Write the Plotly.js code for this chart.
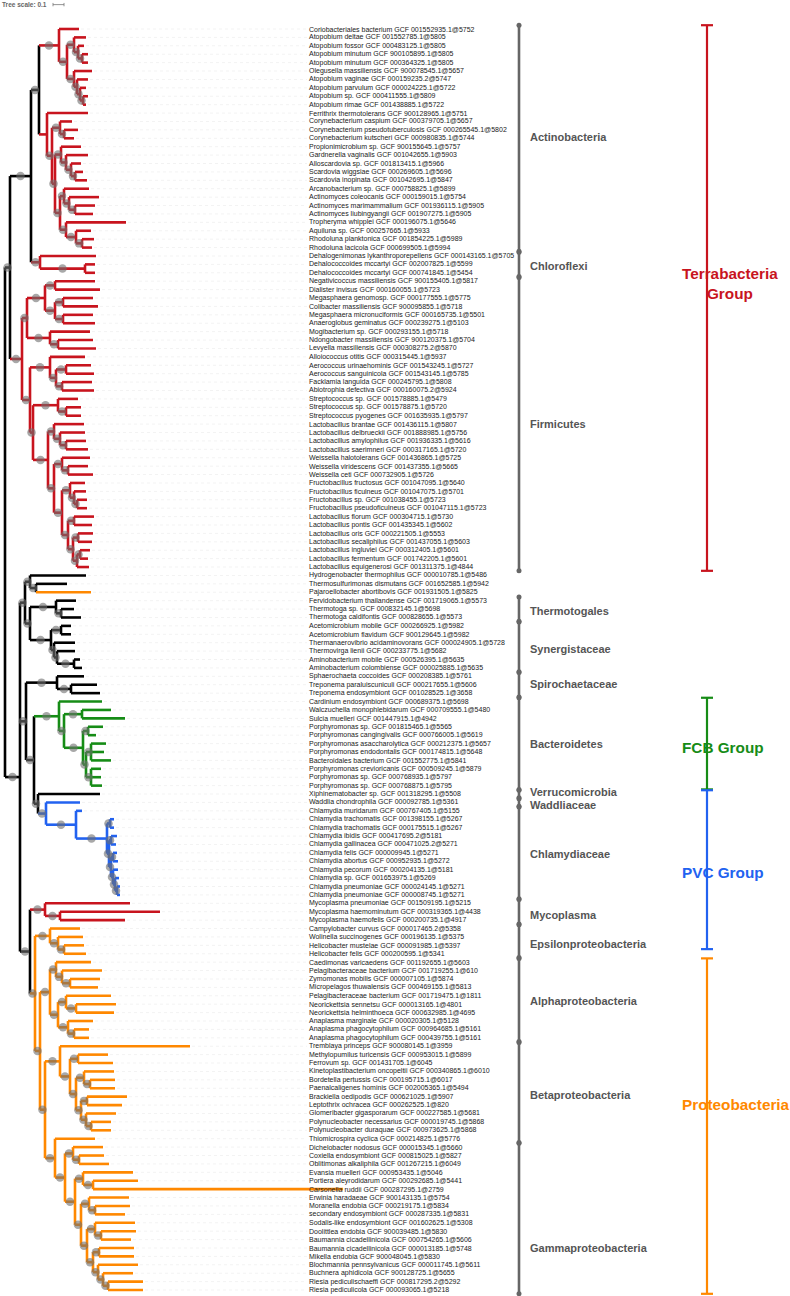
<!DOCTYPE html>
<html><head><meta charset="utf-8">
<script src="https://cdn.plot.ly/plotly-3.0.1.min.js"></script>
<style>html,body{margin:0;padding:0;background:#fff}#chart{width:790px;height:1296px}</style>
</head><body><div id="chart"></div>
<script>
// ---------- DATA ----------
const leafNames = [
"Coriobacteriales bacterium GCF 001552935.1@5752","Atopobium deltae GCF 001552785.1@5805","Atopobium fossor GCF 000483125.1@5805","Atopobium minutum GCF 900105895.1@5805","Atopobium minutum GCF 000364325.1@5805","Olegusella massiliensis GCF 900078545.1@5657","Atopobium vaginae GCF 000159235.2@5747","Atopobium parvulum GCF 000024225.1@5722","Atopobium sp. GCF 000411555.1@5809","Atopobium rimae GCF 001438885.1@5722",
"Ferrithrix thermotolerans GCF 900128965.1@5751","Corynebacterium caspium GCF 000379705.1@5657","Corynebacterium pseudotuberculosis GCF 000265545.1@5802","Corynebacterium kutscheri GCF 000980835.1@5744","Propionimicrobium sp. GCF 900155645.1@5757","Gardnerella vaginalis GCF 001042655.1@5903","Alloscardovia sp. GCF 001813415.1@5966","Scardovia wiggsiae GCF 000269605.1@5696","Scardovia inopinata GCF 001042695.1@5847","Arcanobacterium sp. GCF 000758825.1@5899",
"Actinomyces coleocanis GCF 000159015.1@5754","Actinomyces marimammalium GCF 001936115.1@5905","Actinomyces liubingyangii GCF 001907275.1@5905","Tropheryma whipplei GCF 000196075.1@5646","Aquiluna sp. GCF 000257665.1@5933","Rhodoluna planktonica GCF 001854225.1@5989","Rhodoluna lacicola GCF 000699505.1@5994","Dehalogenimonas lykanthroporepellens GCF 000143165.1@5705","Dehalococcoides mccartyi GCF 002007825.1@5599","Dehalococcoides mccartyi GCF 000741845.1@5454",
"Negativicoccus massiliensis GCF 900155405.1@5817","Dialister invisus GCF 000160055.1@5723","Megasphaera genomosp. GCF 000177555.1@5775","Colibacter massiliensis GCF 900095855.1@5718","Megasphaera micronuciformis GCF 000165735.1@5501","Anaeroglobus geminatus GCF 000239275.1@5103","Mogibacterium sp. GCF 000293155.1@5718","Ndongobacter massiliensis GCF 900120375.1@5704","Levyella massiliensis GCF 000308275.2@5870","Alloiococcus otitis GCF 000315445.1@5937",
"Aerococcus urinaehominis GCF 001543245.1@5727","Aerococcus sanguinicola GCF 001543145.1@5785","Facklamia languida GCF 000245795.1@5808","Abiotrophia defectiva GCF 000160075.2@5924","Streptococcus sp. GCF 001578885.1@5479","Streptococcus sp. GCF 001578875.1@5720","Streptococcus pyogenes GCF 001635935.1@5797","Lactobacillus brantae GCF 001436115.1@5807","Lactobacillus delbrueckii GCF 001888985.1@5756","Lactobacillus amylophilus GCF 001936335.1@5616",
"Lactobacillus saerimneri GCF 000317165.1@5720","Weissella halotolerans GCF 001436865.1@5725","Weissella viridescens GCF 001437355.1@5665","Weissella ceti GCF 000732905.1@5726","Fructobacillus fructosus GCF 001047095.1@5640","Fructobacillus ficulneus GCF 001047075.1@5701","Fructobacillus sp. GCF 001038455.1@5723","Fructobacillus pseudoficulneus GCF 001047115.1@5723","Lactobacillus florum GCF 000304715.1@5730","Lactobacillus pontis GCF 001435345.1@5602",
"Lactobacillus oris GCF 000221505.1@5553","Lactobacillus secaliphilus GCF 001437055.1@5603","Lactobacillus ingluviei GCF 000312405.1@5601","Lactobacillus fermentum GCF 001742205.1@5601","Lactobacillus equigenerosi GCF 001311375.1@4844","Hydrogenobacter thermophilus GCF 000010785.1@5486","Thermosulfurimonas dismutans GCF 001652585.1@5942","Pajaroellobacter abortibovis GCF 001931505.1@5825","Fervidobacterium thailandense GCF 001719065.1@5573","Thermotoga sp. GCF 000832145.1@5698",
"Thermotoga caldifontis GCF 000828655.1@5573","Acetomicrobium mobile GCF 000266925.1@5982","Acetomicrobium flavidum GCF 900129645.1@5982","Thermanaerovibrio acidaminovorans GCF 000024905.1@5728","Thermovirga lienii GCF 000233775.1@5682","Aminobacterium mobile GCF 000526395.1@5635","Aminobacterium colombiense GCF 000025885.1@5635","Sphaerochaeta coccoides GCF 000208385.1@5761","Treponema paraluiscuniculi GCF 000217655.1@5606","Treponema endosymbiont GCF 001028525.1@3658",
"Cardinium endosymbiont GCF 000689375.1@5698","Walczuchella monophlebidarum GCF 000709555.1@5480","Sulcia muelleri GCF 001447915.1@4942","Porphyromonas sp. GCF 001815465.1@5565","Porphyromonas cangingivalis GCF 000766005.1@5619","Porphyromonas asaccharolytica GCF 000212375.1@5657","Porphyromonas endodontalis GCF 000174815.1@5648","Bacteroidales bacterium GCF 001552775.1@5841","Porphyromonas crevioricanis GCF 000509245.1@5879","Porphyromonas sp. GCF 000768935.1@5797",
"Porphyromonas sp. GCF 000768875.1@5795","Xiphinematobacter sp. GCF 001318295.1@5508","Waddlia chondrophila GCF 000092785.1@5361","Chlamydia muridarum GCF 000767405.1@5155","Chlamydia trachomatis GCF 001398155.1@5267","Chlamydia trachomatis GCF 000175515.1@5267","Chlamydia ibidis GCF 000417695.2@5181","Chlamydia gallinacea GCF 000471025.2@5271","Chlamydia felis GCF 000009945.1@5271","Chlamydia abortus GCF 000952935.1@5272",
"Chlamydia pecorum GCF 000204135.1@5181","Chlamydia sp. GCF 001653975.1@5269","Chlamydia pneumoniae GCF 000024145.1@5271","Chlamydia pneumoniae GCF 000008745.1@5271","Mycoplasma pneumoniae GCF 001509195.1@5215","Mycoplasma haemominutum GCF 000319365.1@4438","Mycoplasma haemofelis GCF 000200735.1@4917","Campylobacter curvus GCF 000017465.2@5358","Wolinella succinogenes GCF 000196135.1@5375","Helicobacter mustelae GCF 000091985.1@5397",
"Helicobacter felis GCF 000200595.1@5341","Caedimonas varicaedens GCF 001192655.1@5603","Pelagibacteraceae bacterium GCF 001719255.1@610","Zymomonas mobilis GCF 000007105.1@5874","Micropelagos thuwalensis GCF 000469155.1@5813","Pelagibacteraceae bacterium GCF 001719475.1@1811","Neorickettsia sennetsu GCF 000013165.1@4801","Neorickettsia helminthoeca GCF 000632985.1@4695","Anaplasma marginale GCF 000020305.1@5128","Anaplasma phagocytophilum GCF 000964685.1@5161",
"Anaplasma phagocytophilum GCF 000439755.1@5161","Tremblaya princeps GCF 900080145.1@3959","Methylopumilus turicensis GCF 000953015.1@5899","Ferrovum sp. GCF 001431705.1@6045","Kinetoplastibacterium oncopeltii GCF 000340865.1@6010","Bordetella pertussis GCF 000195715.1@6017","Paenalcaligenes hominis GCF 002005365.1@5494","Brackiella oedipodis GCF 000621025.1@5907","Leptothrix ochracea GCF 000262525.1@820","Glomeribacter gigasporarum GCF 000227585.1@5681",
"Polynucleobacter necessarius GCF 000019745.1@5868","Polynucleobacter duraquae GCF 000973625.1@5868","Thiomicrospira cyclica GCF 000214825.1@5776","Dichelobacter nodosus GCF 000015345.1@5660","Coxiella endosymbiont GCF 000815025.1@5827","Oblitimonas alkaliphila GCF 001267215.1@6049","Evansia muelleri GCF 000953435.1@5046","Portiera aleyrodidarum GCF 000292685.1@5441","Carsonella ruddii GCF 000287295.1@2759","Erwinia haradaeae GCF 900143135.1@5754",
"Moranella endobia GCF 000219175.1@5834","secondary endosymbiont GCF 000287335.1@5831","Sodalis-like endosymbiont GCF 001602625.1@5308","Doolittlea endobia GCF 900039485.1@5830","Baumannia cicadellinicola GCF 000754265.1@5606","Baumannia cicadellinicola GCF 000013185.1@5748","Mikella endobia GCF 900048045.1@5830","Blochmannia pennsylvanicus GCF 000011745.1@5611","Buchnera aphidicola GCF 900128725.1@5655","Riesia pediculischaeffi GCF 000817295.2@5292",
"Riesia pediculicola GCF 000093065.1@5218"
];

// Newick sub-trees; leaves are indices into leafNames, branch lengths in
// picture length units (11 units = tree scale 0.1). Node tags: c = support
// circle, R/G/B/O = clade colour.
const nwActino1 = "(0:20,((1:12,(2:6,(3:6,4:6)c:4)c:4)c:7,(5:18,(6:11,(7:6,(8:5,9:3)c:3)c:3)c:3)c:7)c:8)Rc:20";
const nwCory = "(11:12,(12:14,13:10)c:4)c:8";
const nwBif = "(14:20,(15:22,(16:10,(17:8,18:12)c:4)c:5)c:5)c:6";
const nwActm = "((19:25,(20:30,(21:20,22:18)c:6)c:5)c:4,(23:60,(24:15,(25:12,26:10)c:6)c:10)c:6)c:5";
const nwActino2 = "(10:41,(" + nwCory + ",(" + nwBif + "," + nwActm + ")c:3)c:5)R:8";
const nwChloro = "(27:56,(28:10,29:10)c:45)Rc:9";
const nwNeg = "((30:40,31:45)c:10,((32:30,33:35)c:8,(34:30,35:32)c:8)c:10)c:18";
const nwClos = "(36:40,(37:35,38:38)c:8)c:23";
const nwAero = "(39:35,((40:25,41:28)c:10,(42:30,43:32)c:6)c:6)c:20";
const nwStrep = "(44:20,(45:15,46:15)c:8)c:25";
const nwLacto = "((47:30,(48:25,(49:20,50:22)c:6)c:6)c:6,((51:28,(52:20,53:25)c:6)c:8,((54:15,(55:12,(56:10,57:10)c:3)c:4)c:8,((58:20,59:18)c:6,((60:15,61:14)c:5,((62:10,63:8)c:3,64:12)c:4)c:5)c:6)c:8)c:6)c:15";
const nwFirm = "((" + nwNeg + "," + nwClos + ")c:5,(" + nwAero + ",(" + nwStrep + "," + nwLacto + ")c:3)c:8)Rc:12";
const nwHydro = "(65:56,(66:31,67O:55)c:6)c:5";
const nwThermotog = "(68:20,(69:13,70:20)c:5)c:26";
const nwSyn = "((71:10,72:10)c:10,(73:21,(74:18,(75:6,76:8)c:17)c:3)c:3)c:21";
const nwSpiro = "(77:27,(78:26,79:29)c:14)c:31";
const nwBact = "(80:43,((81:29,82:43)c:18,((83:15,84:8)c:5,((85:15,86:13,87:20)c:5,(88:10,89:10,90:11)c:5)c:3)c:19)c:5)Gc:25";
const nwChlam = "(93:6,((94:4,95:4)c:3,((96:6,97:5)c:2,((98:4,99:5)c:2,(100:5,(101:4,(102:3,103:3)c:2)c:2)c:2)c:2)c:2)c:31";
const nwPVC = "(91:62,(92:34," + nwChlam + ")c:30)Bc:8";
const nwMyco = "(104:85,(105:100,106:65)c:15)Rc:15";
const nwEps = "(107:30,(108:25,(109:20,110:22)c:6)c:8)c:15";
const nwAlpha = "((111:35,(112:40,(113:30,114:28)c:8)c:6)c:6,((115:45,(116:40,117:38)c:10)c:8,(118:25,(119:15,120:15)c:6)c:10)c:8)c:10";
const nwBeta = "(121:130,((122:30,123:35)c:8,((124:30,(125:25,126:25)c:6)c:8,((127:40,128:35)c:6,(129:30,(130:20,131:20)c:5)c:5)c:5)c:6)c:10)c:15";
const nwGamma = "(132:40,((133:30,(134:25,135:30)c:6)c:8,((136:50,(137:45,138:250)c:10)c:8,((139:40,(140:35,141:30)c:6)c:8,((142:40,(143:35,144:30)c:6)c:8,((145:35,146:35)c:6,(147:40,(148:30,(149:35,150:35)c:5)c:5)c:5)c:6)c:6)c:6)c:10)c:10)c:10";
const nwProteo = "(" + nwEps + ",(" + nwAlpha + ",(" + nwBeta + "," + nwGamma + ")c:5)c:5)Oc:5";
const treeNewick =
  "(((((" + nwActino1 + "," + nwActino2 + ")c:8," + nwChloro + ")c:21," + nwFirm + ")c:5," +
  "(((" + nwHydro + ",(" + nwThermotog + "," + nwSyn + ")c:5)c:5,(" + nwSpiro + ",(" + nwBact + "," + nwPVC + ")c:4)c:8)c:6," +
  "(" + nwMyco + "," + nwProteo + ")c:10)c:15);";

const groupNames = ["Actinobacteria","Chloroflexi","Firmicutes","Thermotogales","Synergistaceae","Spirochaetaceae","Bacteroidetes","Verrucomicrobia","Waddliaceae","Chlamydiaceae","Mycoplasma","Epsilonproteobacteria","Alphaproteobacteria","Betaproteobacteria","Gammaproteobacteria"];
const groupFirst = [0,27,30,68,71,77,80,91,92,93,104,107,111,121,133];
const groupLast  = [26,29,64,70,76,79,90,91,92,103,106,110,120,132,150];
const groupLabelAt = [12.9,28.2,47,69.2,73.7,77.9,85,90.75,92.3,98.1,105.4,108.8,115.6,126.8,145];

const superNames = ["Terrabacteria<br>Group","FCB Group","PVC Group","Proteobacteria"];
const superFirst = [0,80,91,111];
const superLast  = [64,90,109,150];
const superLabelAt = [30.3,85.5,100.3,127.9];
const superColor = ["R","G","B","O"];

const treeScaleValue = 0.1, treeScaleUnits = 11;

// ---------- STYLE ----------
const COL = {K:"#000000", R:"#c8141e", G:"#168c16", B:"#2262f0", O:"#ff8800"};
const FONT = "Liberation Sans, Arial, sans-serif";
const LABEL_X = 302, BRACKET_X = 514, GLABEL_X = 523, SUPER_X = 702, SUPER_LABEL_X = 675;

// ---------- PARSE + LAYOUT ----------
function parseNewick(s){
  let i = 0;
  function node(){
    const n = {children:[], name:"", len:0};
    if (s[i] === "("){
      i++; n.children.push(node());
      while (s[i] === ","){ i++; n.children.push(node()); }
      i++;
    }
    let nm = ""; while (i < s.length && !",():;".includes(s[i])) nm += s[i++];
    n.name = nm;
    if (s[i] === ":"){ i++; let v = ""; while (i < s.length && !",();".includes(s[i])) v += s[i++]; n.len = parseFloat(v); }
    return n;
  }
  return node();
}
const root = parseNewick(treeNewick);
function layout(n, px, col, parent){
  n.x = px + (n.len || 0); n.parent = parent;
  const m = n.name.match(/[RGBOK]/); n.col = m ? m[0] : col;
  n.circle = /c/.test(n.name);
  if (n.children.length){
    n.children.forEach(ch => layout(ch, n.x, n.col, n));
    n.y = (n.children[0].y + n.children[n.children.length-1].y) / 2;
  } else { n.leaf = parseInt(n.name, 10); n.y = n.leaf; }
}
layout(root, 0, "K", null);

const segs = {K:{x:[],y:[]},R:{x:[],y:[]},G:{x:[],y:[]},B:{x:[],y:[]},O:{x:[],y:[]}};
const circ = {x:[], y:[]};
const tips = [];
(function walk(n){
  const s = segs[n.col];
  if (n.parent){ s.x.push(n.parent.x, n.x, null); s.y.push(n.y, n.y, null); }
  if (n.children.length){
    s.x.push(n.x, n.x, null); s.y.push(n.children[0].y, n.children[n.children.length-1].y, null);
    if (n.circle && n.parent){ circ.x.push((n.parent.x + n.x)/2); circ.y.push(n.y); }
    n.children.forEach(walk);
  } else tips[n.leaf] = n.x;
})(root);

const traces = [];
const gx = [], gy = [];
tips.forEach((t,i) => { gx.push(t + 2, LABEL_X, null); gy.push(i, i, null); });
traces.push({x:gx, y:gy, mode:"lines", line:{color:"rgba(0,0,0,0.09)", width:0.6, dash:"dot"}, hoverinfo:"skip"});
["K","R","G","B","O"].forEach(k => traces.push({x:segs[k].x, y:segs[k].y, mode:"lines",
  line:{color:COL[k], width:2.6}, hoverinfo:"skip"}));
traces.push({x:circ.x, y:circ.y, mode:"markers", marker:{size:8.5, color:"rgba(110,110,110,0.6)", line:{width:0}}, hoverinfo:"skip"});

const bx = [], by = [], dx = [], dy = [];
groupFirst.forEach((f,i) => {
  const a = f - 0.45, b = groupLast[i] + 0.45;
  bx.push(BRACKET_X, BRACKET_X, null); by.push(a, b, null);
  dx.push(BRACKET_X, BRACKET_X); dy.push(a, b);
});
traces.push({x:bx, y:by, mode:"lines", line:{color:"#666666", width:2.6}, hoverinfo:"skip"});
traces.push({x:dx, y:dy, mode:"markers", marker:{size:5, color:"#666666"}, hoverinfo:"skip"});

superFirst.forEach((f,i) => {
  const a = f - 0.45, b = superLast[i] + 0.45, c = COL[superColor[i]];
  traces.push({x:[SUPER_X-6, SUPER_X+6, null, SUPER_X, SUPER_X, null, SUPER_X-6, SUPER_X+6],
    y:[a, a, null, a, b, null, b, b], mode:"lines", line:{color:c, width:2.2}, hoverinfo:"skip"});
});
traces.push({x:[48, 48+treeScaleUnits, null, 48, 48, null, 48+treeScaleUnits, 48+treeScaleUnits],
  y:[-2.9, -2.9, null, -3.1, -2.7, null, -3.1, -2.7], mode:"lines", line:{color:"#777", width:0.8}, hoverinfo:"skip"});

const ann = [];
leafNames.forEach((nm,i) => ann.push({x:LABEL_X, y:i, text:nm, xanchor:"left", yanchor:"middle", showarrow:false,
  font:{family:FONT, size:7.0, color:"#222"}}));
groupNames.forEach((nm,i) => ann.push({x:GLABEL_X, y:groupLabelAt[i], text:"<b>"+nm+"</b>",
  xanchor:"left", yanchor:"middle", showarrow:false, font:{family:FONT, size:11, color:"#555"}}));
superNames.forEach((nm,i) => ann.push({x:SUPER_LABEL_X, y:superLabelAt[i], text:"<b>"+nm+"</b>",
  xanchor:"left", yanchor:"middle", align:"center", showarrow:false, font:{family:FONT, size:15.3, color:COL[superColor[i]]}}));
ann.push({x:-5, y:-2.9, text:"<b>Tree scale: " + treeScaleValue + "</b>", xanchor:"left", yanchor:"middle", showarrow:false,
  font:{family:FONT, size:6.5, color:"#666"}});

const layoutP = {
  width:790, height:1296, margin:{l:0,r:0,t:0,b:0}, showlegend:false,
  paper_bgcolor:"#fff", plot_bgcolor:"#fff",
  xaxis:{range:[-5,785], visible:false, fixedrange:true},
  yaxis:{range:[150.71,-3.449], visible:false, fixedrange:true},
  annotations:ann
};
Plotly.newPlot("chart", traces, layoutP, {staticPlot:true, displayModeBar:false});
</script></body></html>
